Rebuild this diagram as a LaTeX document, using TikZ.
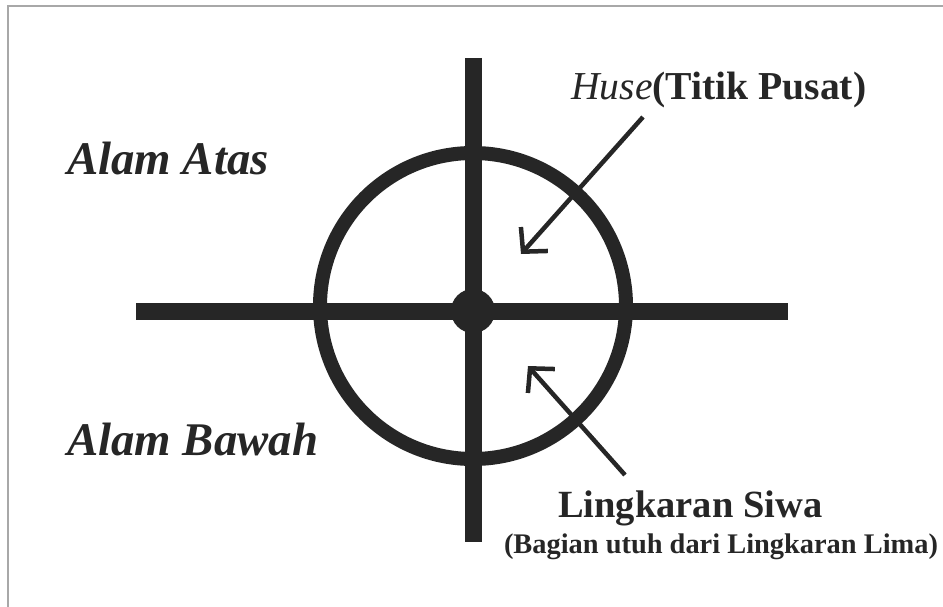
\documentclass[tikz,border=0pt]{standalone}
\usepackage{fontspec}
\setmainfont{Liberation Serif}
\usetikzlibrary{arrows.meta}
\definecolor{ink}{HTML}{262626}
\definecolor{framegray}{HTML}{A8A8A8}
\tikzset{
  thickline/.style={draw=ink, line width=17pt},
  ringline/.style={draw=ink, line width=14pt},
  pointer/.style={draw=ink, line width=4.5pt, -{Straight Barb[length=17pt,width=36pt,line width=4.5pt]}},
  lbl/.style={text=ink, inner sep=0pt, anchor=base west},
}
\begin{document}
\begin{tikzpicture}[x=1pt,y=-1pt]
\useasboundingbox (0,0) rectangle (943,607);
% frame (top and left edges)
\draw[framegray, line width=2pt] (7.5,607) -- (7.5,6) -- (943,6);
% cross
\coordinate (L) at (136,311);
\coordinate (R) at (788,311);
\coordinate (T) at (473,58);
\coordinate (B) at (473,542);
\draw[thickline] (L) -- (R);
\draw[thickline] (T) -- (B);
% circle
\node[circle, ringline, minimum size=306pt, inner sep=0pt] (ring) at (473,306) {};
% centre dot
\node[circle, fill=ink, minimum size=44pt, inner sep=0pt] (dot) at (473,311) {};
% labels
\node[lbl, font=\fontsize{46.8}{52}\selectfont\bfseries\itshape] (atas) at (67,175) {Alam Atas};
\node[lbl, font=\fontsize{46.8}{52}\selectfont\bfseries\itshape] (bawah) at (67,455) {Alam Bawah};
\node[lbl, font=\fontsize{39.6}{44}\selectfont] (huse) at (571,100) {\textit{Huse}\textbf{(Titik Pusat)}};
\node[lbl, font=\fontsize{38.5}{43}\selectfont\bfseries] (siwa) at (558,517) {Lingkaran Siwa};
\node[lbl, font=\fontsize{28.4}{32}\selectfont\bfseries, anchor=base] (lima) at (721,553) {(Bagian utuh dari Lingkaran Lima)};
% arrows
\coordinate (a1s) at (643,117);
\coordinate (a1e) at (521,254);
\coordinate (a2s) at (625,475);
\coordinate (a2e) at (528,366);
\draw[pointer] (a1s) -- (a1e);
\draw[pointer] (a2s) -- (a2e);
\end{tikzpicture}
\end{document}
